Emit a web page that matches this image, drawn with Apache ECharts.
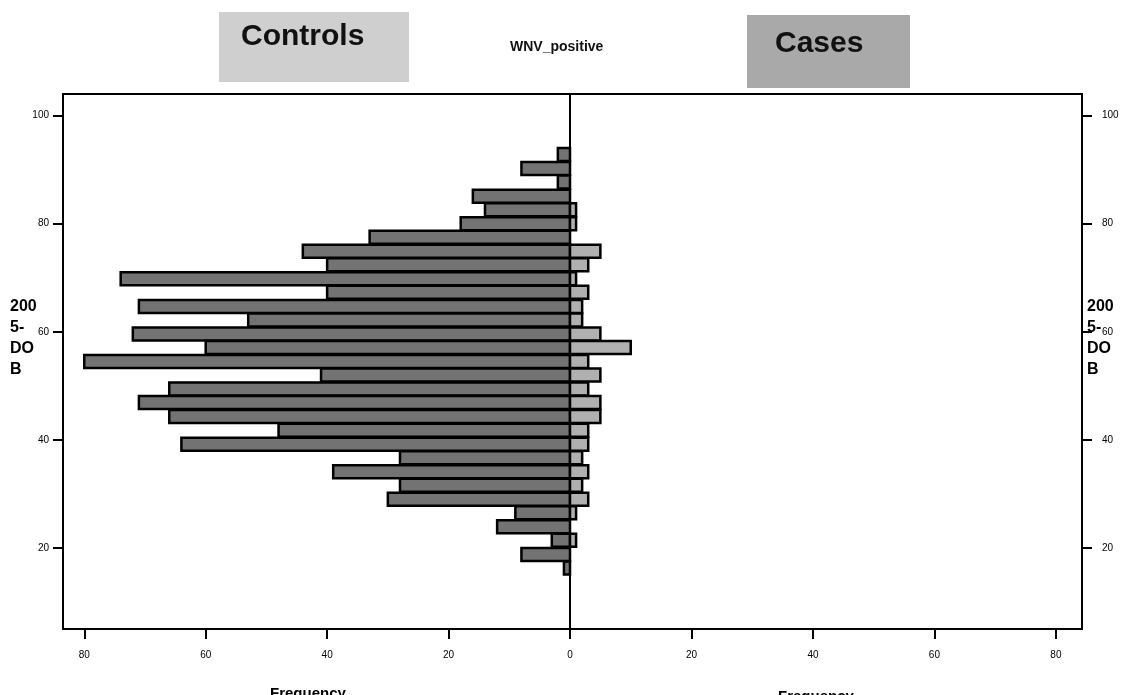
<!DOCTYPE html>
<html>
<head>
<meta charset="utf-8">
<script src="https://cdn.jsdelivr.net/npm/echarts@6/dist/echarts.min.js"></script>
<style>
html,body{margin:0;padding:0;background:#fff;}
#chart{width:1128px;height:695px;}
</style>
</head>
<body>
<div id="chart"></div>
<script>
// Age (2005 - DOB) bin centres, top to bottom
const ageBins = [92.8, 90.2, 87.7, 85.1, 82.6, 80.0, 77.5, 74.9, 72.4, 69.8, 67.3, 64.7, 62.2, 59.6, 57.1, 54.5, 52.0, 49.4, 46.9, 44.3, 41.8, 39.2, 36.7, 34.1, 31.6, 29.0, 26.5, 23.9, 21.4, 18.8, 16.3];
// Frequencies
const controls = [2, 8, 2, 16, 14, 18, 33, 44, 40, 74, 40, 71, 53, 72, 60, 80, 41, 66, 71, 66, 48, 64, 28, 39, 28, 30, 9, 12, 3, 8, 1];
const cases    = [0, 0, 0, 0, 1, 1, 0, 5, 3, 1, 3, 2, 2, 5, 10, 3, 5, 3, 5, 5, 3, 3, 2, 3, 2, 3, 1, 0, 1, 0, 0];
// Tick labels
const yTicks = [20, 40, 60, 80, 100];
const xTicksLeft = [80, 60, 40, 20, 0];
const xTicksRight = [20, 40, 60, 80];

const FONT = '"Liberation Sans", Arial, sans-serif';

function makeRender(fill) {
  return function (params, api) {
    const v = api.value(0);
    const age = api.value(1);
    if (!v) return null;
    const p0 = api.coord([0, age]);
    const p1 = api.coord([v, age]);
    const h = 13;
    return {
      type: 'rect',
      shape: {
        x: Math.min(p0[0], p1[0]),
        y: p0[1] - h / 2,
        width: Math.abs(p1[0] - p0[0]),
        height: h
      },
      style: { fill: fill, stroke: '#000', lineWidth: 2.5 }
    };
  };
}

const chart = echarts.init(document.getElementById('chart'), null, { renderer: 'canvas' });

function yAxisFor(grid, pos, margin) {
  return {
    gridIndex: grid, position: pos,
    type: 'value', min: 5, max: 104,
    splitLine: { show: false },
    axisLine: { show: false, onZero: false },
    axisTick: { show: true, length: 10, lineStyle: { color: '#000', width: 2 }, customValues: yTicks },
    axisLabel: { fontSize: 10, fontFamily: FONT, color: '#000', margin: margin, customValues: yTicks }
  };
}
function xAxisFor(grid, max, inverse, ticks) {
  return {
    gridIndex: grid, type: 'value', min: 0, max: max, inverse: inverse,
    splitLine: { show: false }, axisLine: { show: false, onZero: false },
    axisTick: { show: true, length: 10, lineStyle: { color: '#000', width: 2 }, customValues: ticks },
    axisLabel: { fontSize: 10, fontFamily: FONT, color: '#000', margin: 21, customValues: ticks }
  };
}

chart.setOption({
  animation: false,
  backgroundColor: '#fff',
  grid: [
    { left: 63, width: 507, top: 94, height: 535, show: true, borderColor: '#000', borderWidth: 2, backgroundColor: 'transparent' },
    { left: 570, width: 512, top: 94, height: 535, show: true, borderColor: '#000', borderWidth: 2, backgroundColor: 'transparent' }
  ],
  xAxis: [
    xAxisFor(0, 83.5, true, xTicksLeft),
    xAxisFor(1, 84.3, false, xTicksRight)
  ],
  yAxis: [
    yAxisFor(0, 'left', 14),
    yAxisFor(1, 'right', 20)
  ],
  series: [
    {
      name: 'Controls', type: 'custom', xAxisIndex: 0, yAxisIndex: 0,
      renderItem: makeRender('#737373'),
      encode: { x: 0, y: 1 },
      data: controls.map((v, i) => [v, ageBins[i]])
    },
    {
      name: 'Cases', type: 'custom', xAxisIndex: 1, yAxisIndex: 1,
      renderItem: makeRender('#b0b0b0'),
      encode: { x: 0, y: 1 },
      data: cases.map((v, i) => [v, ageBins[i]])
    }
  ],
  graphic: [
    { type: 'rect', left: 219, top: 12, shape: { width: 190, height: 70 }, style: { fill: '#cfcfcf' }, silent: true },
    { type: 'text', left: 241, top: 22, style: { text: 'Controls', font: 'bold 30px ' + FONT, fill: '#111' } },
    { type: 'text', left: 510, top: 40, style: { text: 'WNV_positive', font: 'bold 14px ' + FONT, fill: '#111' } },
    { type: 'rect', left: 747, top: 15, shape: { width: 163, height: 73 }, style: { fill: '#a9a9a9' }, silent: true },
    { type: 'text', left: 775, top: 29, style: { text: 'Cases', font: 'bold 30px ' + FONT, fill: '#111' } },
    { type: 'text', left: 10, top: 296, style: { text: '200\n5-\nDO\nB', font: 'bold 16px ' + FONT, lineHeight: 21, fill: '#000' } },
    { type: 'text', left: 1087, top: 296, style: { text: '200\n5-\nDO\nB', font: 'bold 16px ' + FONT, lineHeight: 21, fill: '#000' } },
    { type: 'text', left: 270, top: 686, style: { text: 'Frequency', font: 'bold 15px ' + FONT, fill: '#000' } },
    { type: 'text', left: 778, top: 689, style: { text: 'Frequency', font: 'bold 15px ' + FONT, fill: '#000' } }
  ]
});
</script>
</body>
</html>
